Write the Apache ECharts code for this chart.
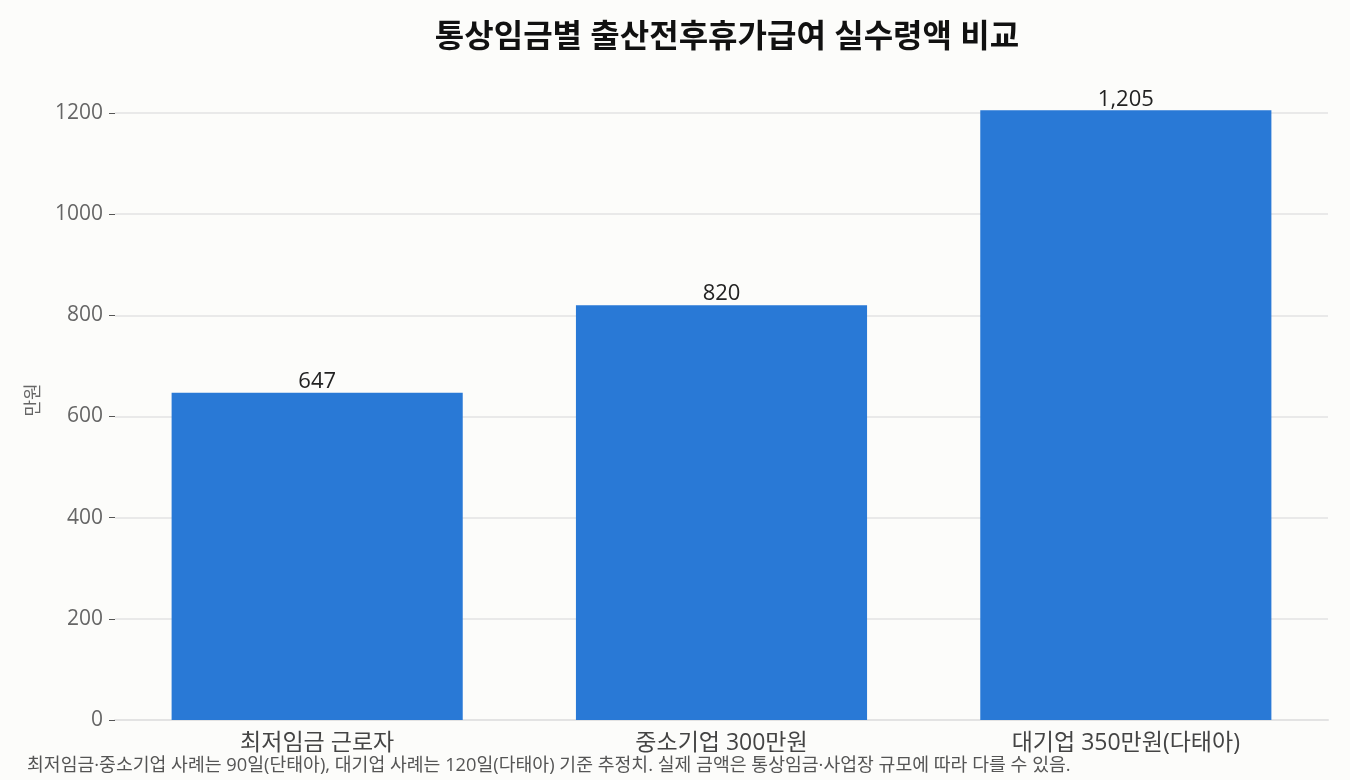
<!DOCTYPE html>
<html>
<head>
<meta charset="utf-8">
<script src="https://cdn.jsdelivr.net/npm/echarts@6/dist/echarts.min.js"></script>
<style>
  html, body { margin: 0; padding: 0; background: #fcfcfa; }
  #chart { width: 1350px; height: 780px; }
</style>
</head>
<body>
<div id="chart"></div>
<script>
const categories = ["최저임금 근로자", "중소기업 300만원", "대기업 350만원(다태아)"];
const amounts = [647, 820, 1205];
const yTicks = [0, 200, 400, 600, 800, 1000, 1200];

// latin glyphs from Open Sans, hangul falls back to Noto CJK
const font = "'Open Sans', 'Noto Sans CJK KR', sans-serif";
const chart = echarts.init(document.getElementById("chart"));

// one colour per split line, the last (axis max) kept invisible
const gridColors = yTicks.map(() => "#e3e3e3").concat(["rgba(0,0,0,0)"]);

chart.setOption({
  backgroundColor: "#fcfcfa",
  animation: false,
  title: {
    text: "통상임금별 출산전후휴가급여 실수령액 비교",
    left: 722,
    top: 17,
    textAlign: "center",
    textStyle: { fontFamily: font, fontSize: 32, fontWeight: "bold", color: "#111" }
  },
  graphic: [{
    type: "text",
    left: 27,
    top: 757,
    style: {
      text: "최저임금·중소기업 사례는 90일(단태아), 대기업 사례는 120일(다태아) 기준 추정치. 실제 금액은 통상임금·사업장 규모에 따라 다를 수 있음.",
      font: "18.3px " + font,
      fill: "#555"
    }
  }],
  grid: { left: 115, right: 22, top: 80, bottom: 60 },
  xAxis: {
    type: "category",
    data: categories,
    axisLine: { lineStyle: { color: "#e3e3e3", width: 2 } },
    axisTick: { alignWithLabel: true, length: 6, lineStyle: { color: "#555" } },
    axisLabel: { fontFamily: font, fontSize: 23, color: "#444", margin: 12 }
  },
  yAxis: {
    type: "value",
    min: 0,
    max: 1265,
    interval: 200,
    name: "만원",
    nameLocation: "middle",
    nameGap: 72,
    nameRotate: 90,
    nameTextStyle: { fontFamily: font, fontSize: 18, color: "#666" },
    axisLine: { show: false },
    axisTick: { show: true, length: 6, customValues: yTicks, lineStyle: { color: "#555" } },
    axisLabel: {
      fontFamily: font, fontSize: 21, color: "#666", margin: 12,
      customValues: yTicks,
      formatter: v => String(v)
    },
    splitLine: { lineStyle: { color: gridColors, width: 1.5 } }
  },
  series: [{
    type: "bar",
    data: amounts,
    barWidth: "72%",
    itemStyle: { color: "#2979d6" },
    label: {
      show: true,
      position: "top",
      distance: 0,
      fontFamily: font,
      fontSize: 22,
      color: "#222",
      formatter: p => p.value.toLocaleString("en-US")
    }
  }]
});
</script>
</body>
</html>
